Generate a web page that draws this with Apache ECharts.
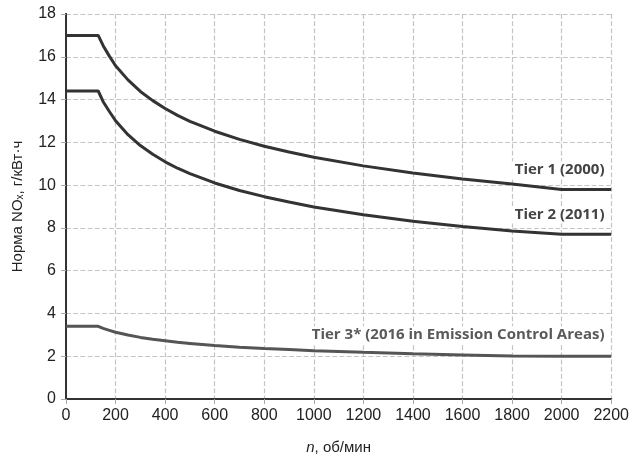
<!DOCTYPE html>
<html><head><meta charset="utf-8">
<script src="https://cdn.jsdelivr.net/npm/echarts@6/dist/echarts.min.js"></script>
<style>html,body{margin:0;padding:0;background:#fff}#c{width:632px;height:460px}</style>
</head><body><div id="c"></div>
<script>
var rpm = [0,130,150,175,200,250,300,350,400,450,500,600,700,800,900,1000,1200,1400,1600,1800,2000,2200];
var tier1 = [17,17,16.52,16.03,15.58,14.92,14.38,13.95,13.58,13.26,12.98,12.52,12.14,11.82,11.55,11.30,10.90,10.57,10.29,10.05,9.8,9.8];
var tier2 = [14.4,14.4,13.90,13.44,13.01,12.36,11.85,11.44,11.09,10.79,10.54,10.10,9.75,9.46,9.21,8.98,8.61,8.31,8.06,7.85,7.7,7.7];
var tier3 = [3.4,3.4,3.30,3.21,3.12,2.99,2.88,2.79,2.72,2.65,2.60,2.50,2.42,2.36,2.31,2.26,2.18,2.11,2.06,2.01,2.0,2.0];
var seriesNames = ['Tier 1 (2000)','Tier 2 (2011)','Tier 3* (2016 in Emission Control Areas)'];
var labelAt = [[2185,10.72],[2185,8.6],[2185,3.0]];
var xTicks = {min:0,max:2200,interval:200};
var yTicks = {min:0,max:18,interval:2};

function pairs(v){return rpm.map(function(x,i){return [x,v[i]];});}
var colors = ['#333333','#333333','#555555'];
var labelColors = ['#444444','#444444','#5a5a5a'];
var all = [tier1,tier2,tier3];
var narrow = '"Liberation Sans Narrow", "Arial Narrow", "Liberation Sans", sans-serif';
var chart = echarts.init(document.getElementById('c'));
function gridLine(){return {show:true,lineStyle:{color:'#c4c4c4',type:'dashed',dashOffset:0,width:1.2}};}
chart.setOption({
  animation:false,
  grid:{left:66,right:15,top:14,bottom:58,show:false},
  xAxis:[{type:'value',min:xTicks.min,max:xTicks.max,interval:xTicks.interval,
    name:'{i|n}, об/мин',nameLocation:'middle',nameGap:41,
    nameTextStyle:{fontFamily:narrow,fontSize:15,color:'#222',rich:{i:{fontStyle:'italic',fontFamily:narrow,fontSize:15,color:'#222'}}},
    axisLine:{show:true,lineStyle:{color:'#333',width:2}},
    axisTick:{show:true,length:5,lineStyle:{color:'#aaa',width:1}},
    axisLabel:{fontFamily:narrow,fontSize:16,color:'#222',margin:9,formatter:function(v){return String(v);}},
    splitLine:gridLine()},
    {type:'value',position:'top',min:xTicks.min,max:xTicks.max,interval:xTicks.interval,
    axisLine:{show:true,lineStyle:{color:'#333',width:2}},axisTick:{show:false},axisLabel:{show:false},splitLine:{show:false}}],
  yAxis:[{type:'value',min:yTicks.min,max:yTicks.max,interval:yTicks.interval,
    name:'Норма NOₓ, г/кВт·ч',nameLocation:'middle',nameGap:41,
    nameTextStyle:{fontFamily:narrow,fontSize:15,color:'#222'},
    axisLine:{show:true,lineStyle:{color:'#333',width:2}},
    axisTick:{show:true,length:5,lineStyle:{color:'#aaa',width:1}},
    axisLabel:{fontFamily:narrow,fontSize:16,color:'#222',margin:10,formatter:function(v){return String(v);}},
    splitLine:gridLine()},
    {type:'value',position:'right',min:yTicks.min,max:yTicks.max,interval:yTicks.interval,
    axisLine:{show:true,lineStyle:{color:'#333',width:2}},axisTick:{show:false},axisLabel:{show:false},splitLine:{show:false}}],
  series: all.map(function(v,k){
    return {type:'line',name:seriesNames[k],data:pairs(v),showSymbol:false,smooth:false,
      xAxisIndex:0,yAxisIndex:0,
      lineStyle:{color:colors[k],width:3},
      markPoint:{symbol:'circle',symbolSize:0,
        data:[{coord:labelAt[k],value:seriesNames[k]}],
        label:{show:true,position:'left',distance:0,formatter:seriesNames[k],
          backgroundColor:'#fff',padding:[1,3],
          fontFamily:'Open Sans',fontWeight:'bold',fontSize:15,color:labelColors[k]}}};
  })
});
</script></body></html>
